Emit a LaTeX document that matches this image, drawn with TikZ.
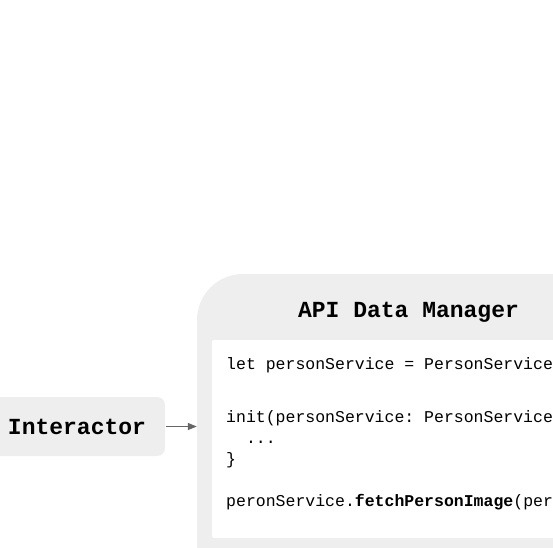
\documentclass[tikz,border=0pt]{standalone}
\usepackage{fontspec}
\setmonofont{Liberation Mono}
\usetikzlibrary{arrows.meta}
\definecolor{panelGrey}{HTML}{EEEEEE}
\definecolor{arrowGrey}{HTML}{666666}
\colorlet{codeFill}{white}

\begin{document}
\begin{tikzpicture}[
  x=1pt, y=-1pt,
  panel/.style={fill=panelGrey, inner sep=0pt},
  heading/.style={font=\ttfamily\bfseries\fontsize{23}{26}\selectfont, inner sep=0pt},
  listing/.style={font=\ttfamily\fontsize{16.5}{21}\selectfont, align=left, inner sep=0pt},
  flow/.style={draw=arrowGrey, line width=1.2pt, -{Triangle[length=9pt,width=7pt]}}
]
\useasboundingbox (0,0) rectangle (553,547);
\clip (0,0) rectangle (553,547);
% caller on the left
\node[panel, heading, rounded corners=8pt, minimum width=176pt, minimum height=59pt] (interactor) at (77,426.5) {Interactor};
% manager panel with its code
\node[panel, rounded corners=46pt, minimum width=423pt, minimum height=326pt] (manager) at (408.5,437) {};
\node[heading, anchor=base] (managerTitle) at (408.5,317) {API Data Manager};
\node[fill=codeFill, inner sep=0pt, rounded corners=2pt, minimum width=408pt, minimum height=198pt] (codeBox) at (416,439) {};
\node[listing, anchor=base west] (code) at (226,506) {%
  let personService = PersonService\\[32pt]
  init(personService: PersonService\\
  \ \ ...\\
  \}\\[21pt]
  peronService.\textbf{fetchPersonImage}(per};
\draw[flow] ([xshift=1pt]interactor.east) -- (interactor.east -| manager.west);
\end{tikzpicture}
\end{document}
